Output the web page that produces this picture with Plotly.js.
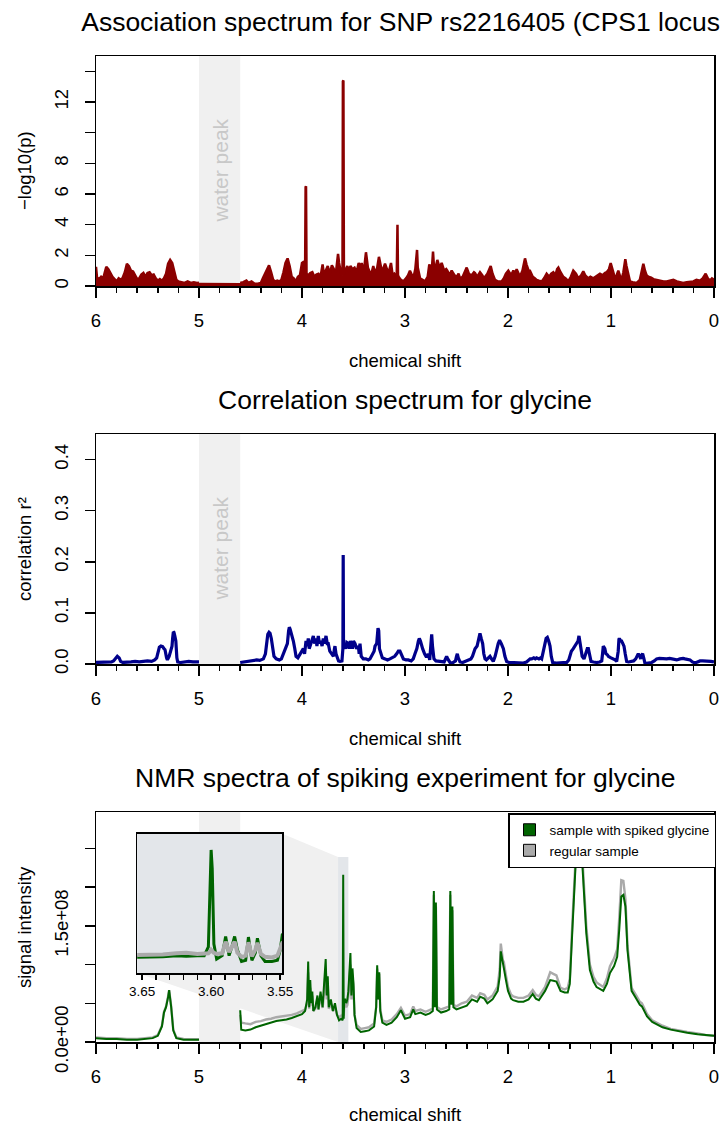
<!DOCTYPE html>
<html><head><meta charset="utf-8">
<script src="https://cdn.plot.ly/plotly-3.0.1.min.js"></script>
<style>html,body{margin:0;padding:0;background:#fff}#chart{width:720px;height:1125px}</style>
</head><body><div id="chart"></div>
<script>
// ---------- Panel 1: association spectrum (-log10 p) ----------
const shiftAssoc = [6.00,5.99,5.97,5.95,5.93,5.91,5.90,5.88,5.86,5.84,5.82,5.80,5.78,5.76,5.74,5.72,5.70,5.68,5.66,5.64,5.62,5.60,5.58,5.56,5.54,5.52,5.50,5.48,5.46,5.44,5.42,5.40,5.38,5.36,5.34,5.32,5.30,5.28,5.26,5.24,5.22,5.20,5.17,5.14,5.11,5.08,5.05,5.02,5.00,4.80,
4.60,4.57,4.54,4.52,4.49,4.46,4.43,4.40,4.38,4.36,4.34,4.32,4.30,4.28,4.26,4.24,4.22,4.20,4.18,4.16,4.14,4.12,4.10,4.08,4.06,4.04,4.02,4.00,3.98,3.970,3.965,3.961,3.956,3.94,3.92,3.90,3.88,3.86,3.84,3.82,3.80,3.79,3.77,3.75,3.73,3.71,3.69,3.67,3.65,3.64,3.62,3.607,3.603,3.598,3.593,3.58,3.56,3.54,3.53,3.51,3.49,3.47,3.45,3.43,3.421,3.40,3.379,3.36,3.346,3.33,3.308,3.29,3.27,3.253,3.223,3.21,3.194,3.165,3.15,3.136,3.12,3.104,3.087,3.080,3.077,3.073,3.068,3.062,3.04,3.016,2.99,2.97,2.952,2.935,2.919,2.90,2.883,2.876,2.854,2.83,2.806,2.78,2.764,2.74,2.728,2.72,2.70,2.686,2.665,2.644,2.62,2.60,2.589,2.57,2.547,2.52,2.498,2.48,2.466,2.44,2.42,2.401,2.38,2.353,2.33,2.32,2.30,2.272,2.25,2.233,2.20,2.18,2.168,2.15,2.126,2.10,2.062,2.04,2.02,1.997,1.97,1.948,1.93,1.916,1.90,1.884,1.86,1.845,1.835,1.82,1.80,1.787,1.76,1.74,1.722,1.70,1.673,1.65,1.625,1.60,1.58,1.56,1.54,1.523,1.511,1.49,1.463,1.44,1.414,1.39,1.366,1.34,1.317,1.29,1.269,1.25,1.22,1.20,1.172,1.15,1.13,1.107,1.08,1.06,1.042,1.02,1.003,0.985,0.961,0.945,0.929,0.91,0.897,0.88,0.868,0.861,0.85,0.83,0.816,0.79,0.751,0.72,0.70,0.686,0.67,0.655,0.638,0.61,0.589,0.56,0.525,0.49,0.46,0.43,0.395,0.36,0.33,0.30,0.266,0.23,0.201,0.17,0.136,0.11,0.081,0.06,0.039,0.02,0.00];
const negLog10P = [1.25,0.55,0.45,0.60,0.50,0.90,1.25,1.10,0.80,0.60,0.45,0.30,0.50,0.40,0.55,0.90,1.45,1.30,1.00,0.95,0.70,0.45,0.50,0.75,0.85,0.60,0.85,0.90,0.70,0.75,0.50,0.35,0.45,0.35,0.50,0.80,1.45,1.70,1.50,0.90,0.40,0.30,0.25,0.20,0.30,0.20,0.25,0.20,0.22,null,
0.20,0.25,0.35,0.20,0.30,0.15,0.15,0.20,0.50,0.80,1.10,1.35,0.90,0.40,0.30,0.35,0.30,0.40,0.90,1.50,1.80,1.30,0.60,0.50,0.30,0.60,0.70,1.50,1.60,0.80,6.45,6.50,0.80,0.70,0.85,0.90,0.60,0.75,0.80,0.60,1.40,0.90,1.00,1.30,0.80,1.35,1.10,0.90,2.10,1.50,0.80,0.70,13.35,13.40,0.80,1.00,1.30,0.90,1.30,1.10,1.20,0.90,1.50,1.20,1.50,0.90,2.20,1.20,1.00,0.70,1.30,0.80,1.20,1.90,0.90,1.20,1.45,0.90,1.10,1.50,0.70,0.80,0.60,0.80,3.95,4.00,0.70,0.60,0.40,0.30,0.50,0.70,1.00,0.70,0.50,1.10,2.35,1.20,0.50,0.40,0.30,0.60,1.40,1.00,2.24,1.40,1.30,1.70,1.20,1.50,1.00,1.10,1.00,0.70,1.00,0.70,0.60,0.80,0.50,0.60,0.90,1.20,0.80,0.70,0.90,0.85,0.60,0.90,0.70,0.50,0.80,1.10,1.30,0.80,0.40,0.30,0.30,0.50,0.80,1.00,0.70,1.00,0.80,1.10,0.80,0.60,1.00,1.60,1.80,1.40,1.00,1.00,0.60,0.50,0.40,0.35,0.30,0.50,0.80,0.60,0.80,0.90,0.70,1.10,1.20,0.90,0.60,0.50,0.30,0.60,1.00,0.80,0.50,0.70,0.95,0.70,0.50,0.60,0.50,0.60,0.70,0.80,0.70,0.85,0.90,1.10,1.50,1.00,0.50,0.70,1.00,0.60,0.40,0.90,1.50,1.75,1.30,0.60,0.30,0.25,0.20,0.40,1.10,1.45,1.00,0.70,0.60,0.55,0.45,0.40,0.35,0.30,0.30,0.35,0.40,0.30,0.25,0.20,0.25,0.30,0.30,0.40,0.35,0.50,0.80,0.50,0.35,0.50,0.40];

// ---------- Panel 2: correlation spectrum (r^2) ----------
const shiftCorr = [6.00,5.95,5.90,5.85,5.83,5.81,5.793,5.775,5.761,5.74,5.70,5.66,5.62,5.58,5.54,5.50,5.46,5.43,5.411,5.395,5.385,5.37,5.353,5.34,5.33,5.315,5.307,5.29,5.275,5.262,5.256,5.249,5.243,5.235,5.225,5.215,5.207,5.18,5.14,5.10,5.06,5.02,5.00,4.80,
4.60,4.56,4.52,4.48,4.44,4.41,4.39,4.375,4.355,4.345,4.332,4.32,4.31,4.298,4.285,4.272,4.25,4.22,4.20,4.18,4.165,4.15,4.142,4.13,4.123,4.115,4.104,4.095,4.084,4.07,4.058,4.04,4.02,4.00,3.987,3.975,3.961,3.95,3.939,3.93,3.916,3.90,3.89,3.878,3.864,3.855,3.842,3.83,3.819,3.805,3.793,3.78,3.767,3.755,3.745,3.73,3.712,3.695,3.685,3.68,3.67,3.657,3.645,3.631,3.612,3.603,3.600,3.597,3.585,3.575,3.565,3.55,3.54,3.53,3.52,3.51,3.50,3.485,3.47,3.453,3.445,3.437,3.425,3.405,3.38,3.356,3.34,3.324,3.30,3.291,3.275,3.262,3.255,3.248,3.236,3.22,3.194,3.17,3.146,3.12,3.10,3.081,3.065,3.049,3.03,3.016,2.99,2.968,2.94,2.92,2.903,2.885,2.87,2.861,2.85,2.838,2.829,2.81,2.796,2.785,2.774,2.76,2.748,2.741,2.733,2.719,2.70,2.68,2.66,2.62,2.605,2.596,2.585,2.563,2.54,2.51,2.50,2.492,2.483,2.466,2.44,2.42,2.401,2.38,2.36,2.345,2.33,2.32,2.30,2.29,2.278,2.272,2.26,2.246,2.235,2.223,2.21,2.19,2.175,2.16,2.143,2.125,2.11,2.095,2.085,2.078,2.065,2.055,2.045,2.03,2.013,1.99,1.948,1.90,1.851,1.82,1.80,1.785,1.77,1.75,1.735,1.722,1.70,1.685,1.673,1.66,1.648,1.641,1.63,1.618,1.605,1.592,1.58,1.566,1.53,1.495,1.46,1.43,1.41,1.398,1.385,1.366,1.35,1.333,1.32,1.311,1.30,1.291,1.28,1.262,1.245,1.23,1.22,1.207,1.194,1.17,1.139,1.11,1.09,1.082,1.075,1.06,1.049,1.035,1.026,1.00,0.977,0.96,0.945,0.93,0.923,0.919,0.905,0.897,0.885,0.874,0.862,0.848,0.83,0.80,0.78,0.76,0.745,0.735,0.72,0.712,0.70,0.693,0.68,0.67,0.64,0.605,0.58,0.557,0.53,0.50,0.46,0.43,0.40,0.362,0.33,0.30,0.282,0.25,0.233,0.21,0.185,0.16,0.136,0.11,0.08,0.055,0.03,0.00];
const corrR2 = [0.003,0.003,0.004,0.004,0.006,0.012,0.015,0.012,0.005,0.003,0.003,0.004,0.005,0.004,0.005,0.006,0.005,0.008,0.012,0.025,0.033,0.035,0.034,0.030,0.028,0.012,0.008,0.015,0.025,0.035,0.050,0.063,0.062,0.055,0.045,0.012,0.004,0.003,0.004,0.005,0.004,0.004,0.004,null,
0.003,0.004,0.005,0.006,0.008,0.007,0.008,0.010,0.020,0.040,0.058,0.062,0.060,0.050,0.035,0.015,0.010,0.008,0.010,0.020,0.030,0.038,0.040,0.065,0.072,0.068,0.060,0.055,0.045,0.030,0.015,0.012,0.020,0.025,0.030,0.020,0.045,0.035,0.050,0.030,0.040,0.050,0.055,0.040,0.050,0.035,0.055,0.040,0.045,0.035,0.050,0.040,0.055,0.040,0.040,0.025,0.020,0.015,0.030,0.035,0.020,0.010,0.006,0.005,0.006,0.030,0.213,0.030,0.035,0.030,0.042,0.040,0.030,0.045,0.040,0.030,0.045,0.040,0.030,0.035,0.020,0.040,0.015,0.010,0.010,0.008,0.010,0.015,0.025,0.035,0.040,0.070,0.065,0.030,0.020,0.012,0.010,0.008,0.010,0.012,0.015,0.020,0.025,0.025,0.015,0.010,0.008,0.008,0.006,0.010,0.020,0.030,0.045,0.050,0.045,0.035,0.030,0.020,0.015,0.015,0.020,0.008,0.040,0.058,0.035,0.010,0.006,0.005,0.005,0.004,0.010,0.015,0.010,0.003,0.002,0.006,0.015,0.020,0.012,0.004,0.003,0.005,0.006,0.008,0.010,0.015,0.028,0.030,0.035,0.045,0.058,0.060,0.050,0.040,0.020,0.010,0.008,0.012,0.015,0.010,0.005,0.015,0.030,0.040,0.045,0.045,0.040,0.035,0.030,0.015,0.005,0.003,0.003,0.002,0.002,0.004,0.008,0.010,0.010,0.012,0.010,0.012,0.010,0.012,0.010,0.020,0.035,0.040,0.050,0.052,0.045,0.035,0.015,0.003,0.002,0.002,0.003,0.003,0.008,0.015,0.025,0.030,0.035,0.040,0.045,0.055,0.040,0.020,0.015,0.010,0.020,0.030,0.030,0.015,0.005,0.004,0.003,0.004,0.006,0.020,0.035,0.030,0.020,0.018,0.015,0.012,0.010,0.008,0.005,0.025,0.048,0.050,0.045,0.045,0.040,0.035,0.020,0.005,0.004,0.005,0.006,0.010,0.018,0.020,0.015,0.010,0.018,0.020,0.010,0.001,0.002,0.003,0.006,0.010,0.011,0.010,0.010,0.011,0.010,0.008,0.010,0.011,0.010,0.009,0.008,0.004,0.002,0.004,0.006,0.006,0.006,0.006,0.005,0.004];

// ---------- Panel 3: NMR spectra (signal intensity) ----------
const shiftNmr = [6.00,5.90,5.80,5.70,5.60,5.50,5.45,5.40,5.36,5.34,5.32,5.30,5.29,5.27,5.25,5.22,5.15,5.05,5.00,4.80,
4.60,4.59,4.55,4.50,4.45,4.40,4.35,4.30,4.25,4.20,4.15,4.10,4.05,4.00,3.97,3.95,3.94,3.93,3.92,3.91,3.90,3.89,3.87,3.85,3.84,3.82,3.80,3.78,3.77,3.76,3.75,3.74,3.72,3.70,3.68,3.66,3.65,3.64,3.62,3.605,3.60,3.595,3.59,3.58,3.57,3.56,3.55,3.54,3.53,3.52,3.51,3.50,3.49,3.47,3.43,3.39,3.35,3.30,3.28,3.27,3.26,3.25,3.24,3.22,3.18,3.13,3.08,3.04,3.02,3.00,2.95,2.92,2.90,2.85,2.80,2.76,2.73,2.72,2.71,2.70,2.69,2.65,2.60,2.57,2.56,2.55,2.54,2.53,2.50,2.45,2.40,2.35,2.30,2.27,2.23,2.20,2.15,2.10,2.08,2.07,2.05,2.04,2.02,2.00,1.97,1.95,1.90,1.85,1.80,1.76,1.73,1.70,1.64,1.61,1.59,1.56,1.53,1.49,1.45,1.42,1.40,1.375,1.345,1.32,1.30,1.285,1.27,1.24,1.205,1.17,1.14,1.10,1.075,1.04,1.01,0.97,0.94,0.92,0.90,0.88,0.86,0.84,0.80,0.75,0.72,0.70,0.65,0.60,0.55,0.50,0.42,0.35,0.26,0.16,0.08,0.00];
const spikedIntensity = [0.05e8,0.04e8,0.04e8,0.03e8,0.03e8,0.04e8,0.05e8,0.08e8,0.20e8,0.38e8,0.45e8,0.58e8,0.67e8,0.45e8,0.15e8,0.05e8,0.03e8,0.03e8,0.03e8,null,
0.41e8,0.16e8,0.15e8,0.16e8,0.19e8,0.21e8,0.24e8,0.25e8,0.27e8,0.28e8,0.29e8,0.31e8,0.33e8,0.36e8,0.40e8,0.55e8,1.04e8,0.45e8,0.80e8,0.50e8,0.65e8,0.40e8,0.45e8,0.60e8,0.42e8,0.65e8,0.45e8,0.80e8,1.07e8,0.60e8,0.85e8,0.45e8,0.55e8,0.40e8,0.50e8,0.35e8,0.30e8,0.28e8,0.30e8,0.28e8,2.16e8,0.30e8,0.55e8,0.55e8,0.50e8,0.55e8,0.65e8,0.90e8,1.15e8,0.60e8,0.95e8,0.75e8,0.35e8,0.18e8,0.13e8,0.14e8,0.15e8,0.20e8,0.45e8,0.99e8,0.55e8,0.90e8,0.40e8,0.25e8,0.22e8,0.25e8,0.32e8,0.41e8,0.35e8,0.30e8,0.32e8,0.42e8,0.36e8,0.38e8,0.35e8,0.37e8,0.40e8,1.95e8,0.45e8,1.80e8,0.42e8,0.38e8,0.40e8,0.42e8,1.95e8,0.48e8,1.75e8,0.45e8,0.42e8,0.45e8,0.47e8,0.55e8,0.52e8,0.585e8,0.56e8,0.50e8,0.55e8,0.66e8,0.85e8,1.17e8,0.98e8,0.95e8,0.80e8,0.66e8,0.56e8,0.54e8,0.52e8,0.52e8,0.55e8,0.62e8,0.56e8,0.54e8,0.66e8,0.75e8,0.80e8,0.79e8,0.78e8,0.66e8,0.64e8,0.64e8,0.75e8,1.45e8,2.26e8,2.55e8,2.70e8,2.45e8,2.05e8,1.41e8,0.93e8,0.78e8,0.71e8,0.68e8,0.66e8,0.75e8,0.89e8,0.98e8,1.10e8,1.45e8,1.88e8,1.90e8,1.75e8,1.19e8,0.66e8,0.55e8,0.48e8,0.46e8,0.33e8,0.26e8,0.22e8,0.19e8,0.16e8,0.14e8,0.12e8,0.10e8,0.09e8,0.08e8];
const regularIntensity = [0.06e8,0.05e8,0.05e8,0.04e8,0.04e8,0.05e8,0.06e8,0.09e8,0.21e8,0.39e8,0.46e8,0.59e8,0.67e8,0.46e8,0.16e8,0.06e8,0.04e8,0.035e8,0.035e8,null,
0.35e8,0.25e8,0.24e8,0.23e8,0.26e8,0.27e8,0.29e8,0.30e8,0.32e8,0.33e8,0.34e8,0.35e8,0.37e8,0.40e8,0.42e8,0.50e8,0.90e8,0.43e8,0.70e8,0.47e8,0.60e8,0.40e8,0.43e8,0.55e8,0.42e8,0.60e8,0.44e8,0.72e8,0.95e8,0.55e8,0.75e8,0.43e8,0.50e8,0.40e8,0.45e8,0.35e8,0.33e8,0.32e8,0.34e8,0.33e8,0.38e8,0.34e8,0.48e8,0.48e8,0.45e8,0.48e8,0.58e8,0.80e8,1.00e8,0.55e8,0.85e8,0.70e8,0.35e8,0.22e8,0.17e8,0.18e8,0.19e8,0.24e8,0.45e8,0.95e8,0.55e8,0.88e8,0.42e8,0.28e8,0.26e8,0.29e8,0.36e8,0.44e8,0.39e8,0.34e8,0.36e8,0.46e8,0.40e8,0.42e8,0.39e8,0.41e8,0.43e8,1.90e8,0.47e8,1.75e8,0.45e8,0.42e8,0.44e8,0.46e8,1.90e8,0.50e8,1.70e8,0.48e8,0.46e8,0.50e8,0.52e8,0.60e8,0.57e8,0.63e8,0.61e8,0.55e8,0.60e8,0.72e8,0.95e8,1.27e8,1.06e8,1.03e8,0.86e8,0.71e8,0.61e8,0.59e8,0.57e8,0.57e8,0.60e8,0.67e8,0.61e8,0.59e8,0.71e8,0.83e8,0.90e8,0.88e8,0.86e8,0.70e8,0.68e8,0.70e8,0.82e8,1.55e8,2.35e8,2.62e8,2.78e8,2.55e8,2.15e8,1.50e8,1.00e8,0.84e8,0.77e8,0.73e8,0.71e8,0.82e8,0.98e8,1.08e8,1.20e8,1.60e8,2.09e8,2.08e8,1.85e8,1.25e8,0.70e8,0.59e8,0.52e8,0.50e8,0.36e8,0.28e8,0.24e8,0.21e8,0.17e8,0.15e8,0.13e8,0.11e8,0.09e8,0.08e8];

// ---------- Inset: glycine region 3.65-3.55 ----------
const shiftInset = [3.656,3.645,3.635,3.625,3.618,3.610,3.605,3.602,3.6008,3.600,3.5992,3.598,3.596,3.592,3.5895,3.587,3.585,3.583,3.581,3.578,3.575,3.573,3.5705,3.568,3.5665,3.564,3.561,3.556,3.552,3.550,3.5485,3.546];
const insetSpiked = [0.27e8,0.27e8,0.28e8,0.30e8,0.29e8,0.30e8,0.30e8,0.45e8,1.80e8,2.12e8,1.80e8,0.50e8,0.24e8,0.30e8,0.63e8,0.30e8,0.45e8,0.63e8,0.40e8,0.20e8,0.22e8,0.62e8,0.22e8,0.35e8,0.60e8,0.30e8,0.20e8,0.20e8,0.22e8,0.40e8,0.66e8,0.70e8];
const insetRegular = [0.31e8,0.31e8,0.32e8,0.34e8,0.35e8,0.33e8,0.33e8,0.34e8,0.37e8,0.40e8,0.38e8,0.35e8,0.33e8,0.34e8,0.54e8,0.36e8,0.45e8,0.54e8,0.35e8,0.28e8,0.30e8,0.53e8,0.29e8,0.40e8,0.52e8,0.33e8,0.28e8,0.27e8,0.30e8,0.45e8,0.52e8,0.55e8];

// ---------- Ticks, labels ----------
const shiftTicks = [6,5,4,3,2,1,0];
const shiftTickText = ['6','5','4','3','2','1','0'];
const assocTicks = [0,2,4,6,8,10,12,14];
const assocTickText = ['0','2','4','6','8','','12',''];
const corrTicks = [0,0.1,0.2,0.3,0.4];
const corrTickText = ['0.0','0.1','0.2','0.3','0.4'];
const nmrTicks = [0,0.5e8,1e8,1.5e8,2e8,2.5e8];
const nmrTickText = ['0.0e+00','','','1.5e+08','',''];
const insetTicks = [3.65,3.64,3.63,3.62,3.61,3.60,3.59,3.58,3.57,3.56,3.55];
const insetTickText = ['3.65','','','','','3.60','','','','','3.55'];
const seriesNames = ['sample with spiked glycine','regular sample'];
const panelTitles = ['Association spectrum for SNP rs2216405 (CPS1 locus)','Correlation spectrum for glycine','NMR spectra of spiking experiment for glycine'];
const yTitles = ['\u2212log10(p)','correlation r\u00b2','signal intensity'];
const waterRange = [5.0, 4.6];
const insetShiftRange = [3.65, 3.55];

// ---------- Layout helpers ----------
const FONT = 'Liberation Sans, Arial, Helvetica, sans-serif';
const H = 1125;
const py = p => 1 - p / H;            // pixel row -> paper y (margins are zero)
const D1 = [py(286), py(56)], D2 = [py(664), py(434)], D3 = [py(1042), py(812)];
const X_RANGE = [6, 0];
const Y3_MAX = 2.97e8;
// inset box placed in panel-3 data coordinates
const insetBox = {x0: 5.60, x1: 4.19, y0: 0.89e8, y1: 2.69e8};
const insetStripTop = 2.39e8;
const xfrac = v => (X_RANGE[0] - v) / (X_RANGE[0] - X_RANGE[1]);
const yfrac3 = v => D3[0] + (v / Y3_MAX) * (D3[1] - D3[0]);

const red = '#8b0000', navy = '#00008b', green = '#006400', grey = '#aaaaaa';

function xAxis(anchor) {
  return {
    anchor: anchor, domain: [0, 1], range: X_RANGE, autorange: false,
    tickmode: 'array', tickvals: shiftTicks, ticktext: shiftTickText,
    ticks: 'outside', ticklen: 10, tickwidth: 1.5, tickcolor: '#000',
    minor: {tickmode: 'linear', tick0: 0, dtick: 0.2, ticks: 'outside', ticklen: 5, tickwidth: 1.5, tickcolor: '#000', showgrid: false},
    showline: true, linecolor: '#000', linewidth: 1.5, mirror: true,
    showgrid: false, zeroline: false,
    tickfont: {family: FONT, size: 18.5, color: '#000'}, ticklabelstandoff: 7
  };
}
function yAxis(anchor, domain, range, vals, text) {
  return {
    anchor: anchor, domain: domain, range: range, autorange: false,
    tickmode: 'array', tickvals: vals, ticktext: text, tickangle: -90,
    ticks: 'outside', ticklen: 10, tickwidth: 1.5, tickcolor: '#000',
    showline: true, linecolor: '#000', linewidth: 1.5, mirror: true,
    showgrid: false, zeroline: false,
    tickfont: {family: FONT, size: 18.5, color: '#000'}, ticklabelstandoff: 9
  };
}
function topTicks(overlay, anchor) {
  return {
    overlaying: overlay, anchor: anchor, side: 'top', range: X_RANGE, autorange: false,
    tickmode: 'linear', tick0: 0, dtick: 0.2, ticks: 'outside', ticklen: 5, tickwidth: 1.5, tickcolor: '#000',
    showticklabels: false, showline: false, showgrid: false, zeroline: false
  };
}

const traces = [
  {x: shiftAssoc, y: negLog10P, xaxis: 'x', yaxis: 'y', type: 'scatter', mode: 'lines',
   line: {color: red, width: 2.5}, fill: 'tozeroy', fillcolor: red, showlegend: false, hoverinfo: 'skip'},
  {x: shiftCorr, y: corrR2, xaxis: 'x2', yaxis: 'y2', type: 'scatter', mode: 'lines',
   line: {color: navy, width: 3.2}, showlegend: false, hoverinfo: 'skip'},
  {x: shiftNmr, y: regularIntensity, xaxis: 'x3', yaxis: 'y3', type: 'scatter', mode: 'lines',
   line: {color: grey, width: 2.4}, showlegend: false, hoverinfo: 'skip'},
  {x: shiftNmr, y: spikedIntensity, xaxis: 'x3', yaxis: 'y3', type: 'scatter', mode: 'lines',
   line: {color: green, width: 2}, showlegend: false, hoverinfo: 'skip'},
  {x: shiftInset, y: insetSpiked, xaxis: 'x4', yaxis: 'y4', type: 'scatter', mode: 'lines',
   line: {color: green, width: 3}, showlegend: false, hoverinfo: 'skip'},
  {x: shiftInset, y: insetRegular, xaxis: 'x4', yaxis: 'y4', type: 'scatter', mode: 'lines',
   line: {color: grey, width: 4}, showlegend: false, hoverinfo: 'skip'},
  // legend keys (square swatches as in the original)
  {x: [null], y: [null], xaxis: 'x3', yaxis: 'y3', type: 'scatter', mode: 'markers', name: seriesNames[0],
   marker: {symbol: 'square', size: 12, color: green, line: {color: '#000', width: 1}}},
  {x: [null], y: [null], xaxis: 'x3', yaxis: 'y3', type: 'scatter', mode: 'markers', name: seriesNames[1],
   marker: {symbol: 'square', size: 12, color: grey, line: {color: '#000', width: 1}}}
];

const shapes = [];
[['x', 'y domain'], ['x2', 'y2 domain'], ['x3', 'y3 domain']].forEach(r => {
  shapes.push({type: 'rect', xref: r[0], yref: r[1], x0: waterRange[0], x1: waterRange[1], y0: 0, y1: 1,
    fillcolor: '#f0f0f0', line: {width: 0}, layer: 'below'});
});
// zoom funnel from the inset to the highlighted strip
shapes.push({type: 'path', xref: 'x3', yref: 'y3', layer: 'below', fillcolor: '#f0f0f0', line: {width: 0},
  path: 'M' + insetBox.x0 + ',' + insetBox.y1 + ' L' + insetBox.x1 + ',' + insetBox.y1 +
        ' L' + insetShiftRange[0] + ',' + insetStripTop + ' L' + insetShiftRange[0] + ',0' +
        ' L' + insetBox.x0 + ',' + insetBox.y0 + ' Z'});
shapes.push({type: 'rect', xref: 'x3', yref: 'y3', layer: 'below', x0: insetShiftRange[0], x1: insetShiftRange[1],
  y0: 0, y1: insetStripTop, fillcolor: '#e3e6ea', line: {width: 0}});
// inset background (same panel-3 coordinates, drawn after the funnel)
shapes.push({type: 'rect', xref: 'x3', yref: 'y3', layer: 'below', x0: insetBox.x0, x1: insetBox.x1,
  y0: insetBox.y0, y1: insetBox.y1, fillcolor: '#e3e6ea', line: {width: 0}});

const ann = [];
const titleFont = {family: FONT, size: 26.5, color: '#000'};
const labFont = {family: FONT, size: 18.5, color: '#000'};
ann.push({text: panelTitles[1], xref: 'paper', yref: 'paper', x: 0.5, y: py(400), xanchor: 'center', yanchor: 'middle', showarrow: false, font: titleFont});
ann.push({text: panelTitles[2], xref: 'paper', yref: 'paper', x: 0.5, y: py(778), xanchor: 'center', yanchor: 'middle', showarrow: false, font: titleFont});
[360, 738, 1114].forEach(p => ann.push({text: 'chemical shift', xref: 'paper', yref: 'paper', x: 0.5, y: py(p),
  xanchor: 'center', yanchor: 'middle', showarrow: false, font: labFont}));
['y domain', 'y2 domain', 'y3 domain'].forEach((yr, i) => ann.push({text: yTitles[i], xref: 'paper', yref: yr,
  x: (24 - 96) / 618, y: 0.5, textangle: -90, xanchor: 'center', yanchor: 'middle', showarrow: false, font: labFont}));
[['x', 'y domain'], ['x2', 'y2 domain']].forEach(r => ann.push({text: 'water peak', xref: r[0], yref: r[1],
  x: 4.8, y: 0.5, textangle: -90, xanchor: 'center', yanchor: 'middle', showarrow: false,
  font: {family: FONT, size: 21, color: '#c8c8c8'}}));

const layout = {
  width: 720, height: 1125,
  margin: {l: 96, r: 6, t: 0, b: 0},
  paper_bgcolor: '#fff', plot_bgcolor: 'rgba(0,0,0,0)',
  font: {family: FONT, color: '#000'},
  title: {text: panelTitles[0], x: 0.5, xref: 'paper', y: py(22), yref: 'container', xanchor: 'center', yanchor: 'middle', font: titleFont},
  xaxis: xAxis('y'), yaxis: yAxis('x', D1, [0, 15], assocTicks, assocTickText),
  xaxis2: xAxis('y2'), yaxis2: yAxis('x2', D2, [0, 0.45], corrTicks, corrTickText),
  xaxis3: xAxis('y3'), yaxis3: yAxis('x3', D3, [0, Y3_MAX], nmrTicks, nmrTickText),
  xaxis4: {anchor: 'y4', domain: [xfrac(insetBox.x0), xfrac(insetBox.x1)], range: [3.6535, 3.5484], autorange: false,
    tickmode: 'array', tickvals: insetTicks, ticktext: insetTickText, ticks: 'outside', ticklen: 5, tickwidth: 1.5, tickcolor: '#000',
    showline: true, linecolor: '#000', linewidth: 1.5, mirror: true, showgrid: false, zeroline: false,
    tickfont: {family: FONT, size: 13.5, color: '#000'}},
  yaxis4: {anchor: 'x4', domain: [yfrac3(insetBox.y0), yfrac3(insetBox.y1)], range: [0, 2.4e8], autorange: false,
    showticklabels: false, ticks: '', showline: true, linecolor: '#000', linewidth: 1.5, mirror: true, showgrid: false, zeroline: false},
  xaxis5: topTicks('x2', 'y2'),
  xaxis6: topTicks('x3', 'y3'),
  shapes: shapes, annotations: ann,
  showlegend: true,
  legend: {x: (716 - 96) / 618, xanchor: 'right', y: py(813), yanchor: 'top', bgcolor: '#fff', bordercolor: '#000', borderwidth: 1.5,
    font: {family: FONT, size: 13.5, color: '#000'}, tracegroupgap: 0, itemwidth: 30}
};

Plotly.newPlot('chart', traces, layout, {displayModeBar: false, staticPlot: true});
</script></body></html>
